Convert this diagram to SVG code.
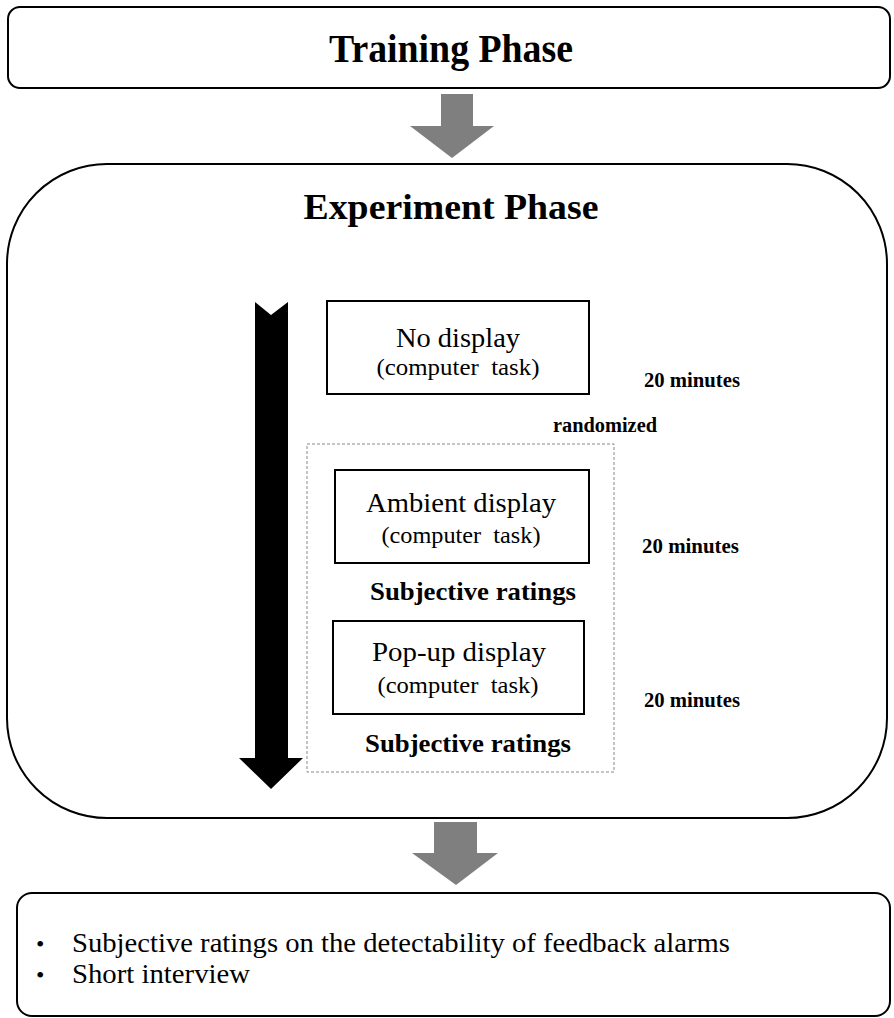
<svg xmlns="http://www.w3.org/2000/svg" width="894" height="1018" viewBox="0 0 894 1018">
<style>
.box{fill:#fff;stroke:#000;stroke-width:2}
.inner{fill:#fff;stroke:#000;stroke-width:2}
text{font-family:'Liberation Serif','Times New Roman',Times,serif;fill:#000}
.title{font-weight:bold;text-anchor:middle}
.lab{text-anchor:middle}
.bold{font-weight:bold}
.gray{fill:#7f7f7f}
</style>
<rect width="894" height="1018" fill="#fff"/>
<g id="training">
  <rect class="box" x="8" y="7" width="882" height="81" rx="12"/>
  <text class="title" x="451" y="62" font-size="40" textLength="244" lengthAdjust="spacingAndGlyphs">Training Phase</text>
</g>
<g id="experiment">
  <rect class="box" x="7" y="164" width="880" height="654" rx="100" ry="100"/>
  <text class="title" x="451" y="219" font-size="36" textLength="295" lengthAdjust="spacingAndGlyphs">Experiment Phase</text>
</g>
<g id="randomized-group">
  <rect x="307" y="444" width="307" height="328" fill="none" stroke="#888" stroke-width="1" stroke-dasharray="3 2"/>
  <text class="bold" x="553" y="432" font-size="20" textLength="104" lengthAdjust="spacingAndGlyphs">randomized</text>
</g>
<g id="no-display">
  <rect class="inner" x="327" y="301" width="262" height="93"/>
  <text class="lab" x="458" y="347" font-size="28" textLength="124" lengthAdjust="spacingAndGlyphs">No display</text>
  <text class="lab" x="458" y="375" font-size="24" xml:space="preserve" textLength="163" lengthAdjust="spacingAndGlyphs">(computer  task)</text>
  <text class="bold" x="644" y="387" font-size="20" textLength="96" lengthAdjust="spacingAndGlyphs">20 minutes</text>
</g>
<g id="ambient-display">
  <rect class="inner" x="335" y="470" width="254" height="93"/>
  <text class="lab" x="461" y="512" font-size="28" textLength="190" lengthAdjust="spacingAndGlyphs">Ambient display</text>
  <text class="lab" x="461" y="543" font-size="24" xml:space="preserve" textLength="159" lengthAdjust="spacingAndGlyphs">(computer  task)</text>
  <text class="bold" x="642" y="553" font-size="20" textLength="97" lengthAdjust="spacingAndGlyphs">20 minutes</text>
  <text class="bold" x="370" y="600" font-size="26" textLength="206" lengthAdjust="spacingAndGlyphs">Subjective ratings</text>
</g>
<g id="popup-display">
  <rect class="inner" x="333" y="621" width="251" height="93"/>
  <text class="lab" x="459" y="661" font-size="28" textLength="174" lengthAdjust="spacingAndGlyphs">Pop-up display</text>
  <text class="lab" x="458" y="693" font-size="24" xml:space="preserve" textLength="161" lengthAdjust="spacingAndGlyphs">(computer  task)</text>
  <text class="bold" x="644" y="707" font-size="20" textLength="96" lengthAdjust="spacingAndGlyphs">20 minutes</text>
  <text class="bold" x="365" y="752" font-size="26" textLength="206" lengthAdjust="spacingAndGlyphs">Subjective ratings</text>
</g>
<g id="post-experiment">
  <rect class="box" x="17" y="893" width="873" height="123" rx="15"/>
  <text x="36" y="952" font-size="24">•</text>
  <text x="72" y="952" font-size="28" textLength="658" lengthAdjust="spacingAndGlyphs">Subjective ratings on the detectability of feedback alarms</text>
  <text x="36" y="983" font-size="24">•</text>
  <text x="72" y="983" font-size="28" textLength="178" lengthAdjust="spacingAndGlyphs">Short interview</text>
</g>
<g id="connectors">
  <polygon class="gray" points="441,94 473,94 473,126 494,126 452,158 410,126 441,126"/>
  <polygon class="gray" points="434,822 477,822 477,853 498,853 456,885 412,853 434,853"/>
  <polygon fill="#000" points="255,302 271,315 288,302 288,758 303,758 271,789 239,758 255,758"/>
</g>
</svg>
